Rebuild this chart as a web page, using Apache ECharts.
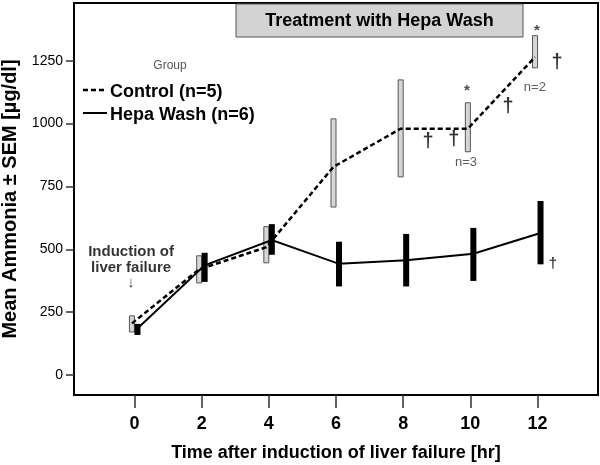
<!DOCTYPE html>
<html><head><meta charset="utf-8">
<script src="https://cdn.jsdelivr.net/npm/echarts@6/dist/echarts.min.js"></script>
<style>html,body{margin:0;padding:0;background:#fff}#c{width:600px;height:465px}</style>
</head><body><div id="c"></div>
<script>
// ---- data ----
const hours = [0, 2, 4, 6, 8, 10, 12];
const xTicks = [0, 2, 4, 6, 8, 10, 12];
const yTicks = [0, 250, 500, 750, 1000, 1250];
const controlMean = [205, 420, 508, 828, 980, 980, 1265];
const controlLow  = [171, 366, 446, 668, 788, 888, 1222];
const controlHigh = [235, 474, 590, 1019, 1174, 1083, 1350];
const hepaMean = [185, 436, 537, 442, 456, 482, 565];
const hepaLow  = [159, 370, 478, 352, 352, 374, 440];
const hepaHigh = [203, 486, 600, 530, 561, 585, 692];
const controlDeaths = [[8.74, 927], [9.51, 935], [11.12, 1067], [12.58, 1242]];
const hepaDeaths = [[12.46, 440]];
const stars = [[9.9, 1132], [11.98, 1370]];
const nLabels = [[9.87, 844, 'n=3'], [11.92, 1146, 'n=2']];
const induction = [[-0.1, 458, 'Induction of\nliver failure'], [-0.1, 368, '↓']];

const FONT = "'Liberation Sans', Arial, sans-serif";
const CTRL_OFF = -2.5, HEPA_OFF = 3;

function boxSeries(name, low, high, off, w, fill, stroke, lw, z) {
  return {
    name, type: 'custom', z,
    data: hours.map((h, i) => [h, low[i], high[i]]),
    renderItem: (params, api) => {
      const p1 = api.coord([api.value(0), api.value(2)]);
      const p2 = api.coord([api.value(0), api.value(1)]);
      return { type: 'rect',
        shape: { x: p1[0] + off - w / 2, y: p1[1], width: w, height: p2[1] - p1[1] },
        style: { fill, stroke, lineWidth: lw } };
    }
  };
}
function lineSeries(name, mean, off, width, dash, z) {
  return {
    name, type: 'custom', z,
    data: hours.map((h, i) => [h, mean[i]]),
    renderItem: (params, api) => {
      if (params.dataIndex !== 0) return null;
      const pts = hours.map((h, i) => { const p = api.coord([h, mean[i]]); return [p[0] + off, p[1]]; });
      return { type: 'polyline', shape: { points: pts },
        style: { fill: null, stroke: '#000', lineWidth: width, lineDash: dash } };
    }
  };
}
function textSeries(data, size, weight, color) {
  return {
    type: 'scatter', symbolSize: 0, z: 10, silent: true,
    data: data.map(d => ({ value: [d[0], d[1]], name: d[2] })),
    label: { show: true, position: 'inside', formatter: p => p.name,
      fontFamily: FONT, fontSize: size, fontWeight: weight, color, lineHeight: size + 1 }
  };
}

const chart = echarts.init(document.getElementById('c'), null, { renderer: 'canvas' });
chart.setOption({
  animation: false,
  backgroundColor: '#fff',
  grid: { left: 74, right: 2, top: 3, bottom: 70, containLabel: false, outerBoundsMode: 'none',
    show: true, borderColor: '#000', borderWidth: 2, backgroundColor: 'transparent' },
  xAxis: {
    type: 'value', min: -1.8, max: 13.8,
    axisLine: { show: true, onZero: false, lineStyle: { color: '#000', width: 2 } },
    axisTick: { show: true, customValues: xTicks, length: 13, lineStyle: { color: '#333', width: 1.5 } },
    axisLabel: { customValues: xTicks, formatter: v => String(v), fontFamily: FONT, fontSize: 18, fontWeight: 'bold', color: '#000', margin: 20 },
    splitLine: { show: false },
    name: 'Time after induction of liver failure [hr]', nameLocation: 'middle', nameGap: 49,
    nameTextStyle: { fontFamily: FONT, fontSize: 18, fontWeight: 'bold', color: '#000' }
  },
  yAxis: {
    type: 'value', min: -80, max: 1480,
    axisLine: { show: true, onZero: false, lineStyle: { color: '#000', width: 2 } },
    axisTick: { show: true, customValues: yTicks, length: 8, lineStyle: { color: '#333', width: 1.5 } },
    axisLabel: { customValues: yTicks, formatter: v => String(v), fontFamily: FONT, fontSize: 14, color: '#000', margin: 11 },
    splitLine: { show: false },
    name: 'Mean Ammonia ± SEM [µg/dl]', nameLocation: 'middle', nameGap: 53, nameRotate: 90,
    nameTextStyle: { fontFamily: FONT, fontSize: 20, fontWeight: 'bold', color: '#000' }
  },
  series: [
    boxSeries('Control SEM', controlLow, controlHigh, CTRL_OFF, 5, '#d6d6d6', '#555', 1, 2),
    boxSeries('Hepa Wash SEM', hepaLow, hepaHigh, HEPA_OFF, 6, '#000', '#000', 0, 3),
    lineSeries('Control (n=5)', controlMean, CTRL_OFF, 2.5, [5, 3], 4),
    lineSeries('Hepa Wash (n=6)', hepaMean, HEPA_OFF, 2, null, 5),
    textSeries(controlDeaths.map(d => [d[0], d[1], '†']), 20, 'bold', '#000'),
    textSeries(hepaDeaths.map(d => [d[0], d[1], '†']), 15, 'bold', '#000'),
    textSeries(stars.map(d => [d[0], d[1], '*']), 15, 'bold', '#222'),
    textSeries(nLabels, 13, 'normal', '#333'),
    textSeries(induction.slice(0, 1), 15, 'bold', '#000'),
    textSeries(induction.slice(1), 15, 'normal', '#222')
  ],
  graphic: [
    { type: 'rect', shape: { x: 236, y: 4, width: 287, height: 33 }, style: { fill: '#d3d3d3', stroke: '#555', lineWidth: 1 }, z: 20 },
    { type: 'text', x: 379.5, y: 21, style: { text: 'Treatment with Hepa Wash', font: 'bold 18px ' + FONT, fill: '#000', textAlign: 'center', textVerticalAlign: 'middle' }, z: 21 },
    { type: 'text', x: 170, y: 66, style: { text: 'Group', font: '12px ' + FONT, fill: '#555', textAlign: 'center', textVerticalAlign: 'middle' }, z: 21 },
    { type: 'line', shape: { x1: 83, y1: 90, x2: 107, y2: 90 }, style: { stroke: '#000', lineWidth: 2.5, lineDash: [5, 3] }, z: 21 },
    { type: 'text', x: 110, y: 92, style: { text: 'Control (n=5)', font: 'bold 18px ' + FONT, fill: '#000', textAlign: 'left', textVerticalAlign: 'middle' }, z: 21 },
    { type: 'line', shape: { x1: 83, y1: 113, x2: 107, y2: 113 }, style: { stroke: '#000', lineWidth: 2 }, z: 21 },
    { type: 'text', x: 110, y: 115, style: { text: 'Hepa Wash (n=6)', font: 'bold 18px ' + FONT, fill: '#000', textAlign: 'left', textVerticalAlign: 'middle' }, z: 21 }
  ]
});
</script></body></html>
